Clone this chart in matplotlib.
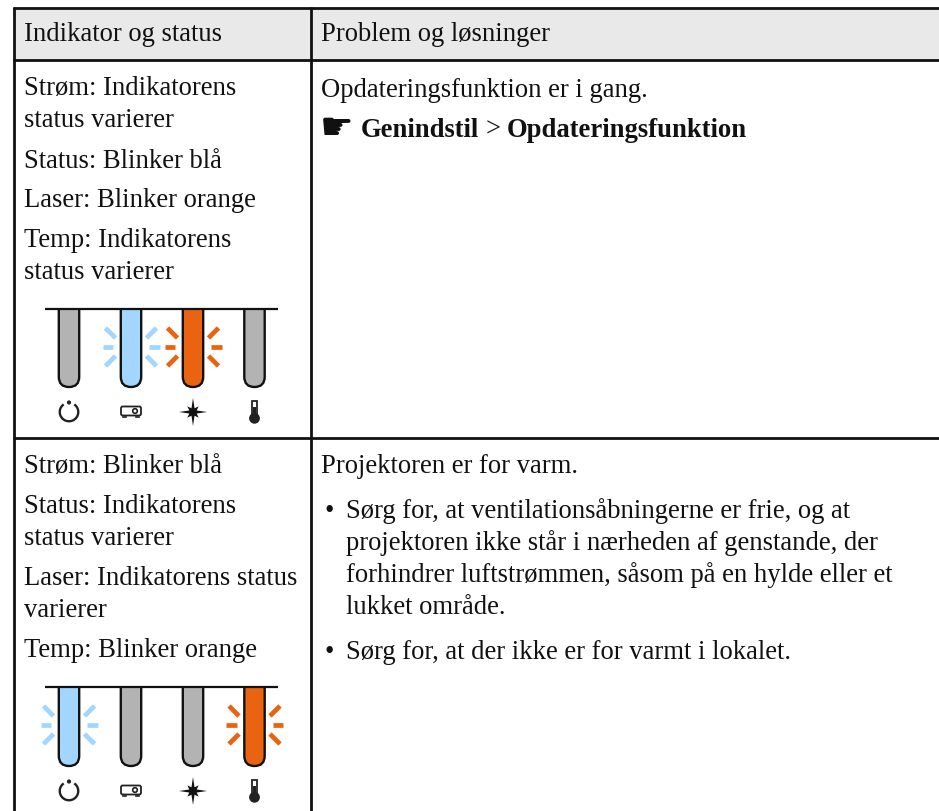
import matplotlib
matplotlib.use("Agg")
import matplotlib.pyplot as plt
from matplotlib.patches import Rectangle, Polygon, FancyBboxPatch, Circle, Arc, PathPatch
from matplotlib.path import Path
import numpy as np

headers = ["Indikator og status", "Problem og løsninger"]
left_1 = [("Strøm: Indikatorens", 94), ("status varierer", 126), ("Status: Blinker blå", 167),
          ("Laser: Blinker orange", 206), ("Temp: Indikatorens", 246), ("status varierer", 278)]
left_2 = [("Strøm: Blinker blå", 472), ("Status: Indikatorens", 512), ("status varierer", 544),
          ("Laser: Indikatorens status", 584), ("varierer", 616), ("Temp: Blinker orange", 656)]
right_plain = [("Opdateringsfunktion er i gang.", 96), ("Projektoren er for varm.", 472)]
bullet_1 = [("Sørg for, at ventilationsåbningerne er frie, og at", 517),
            ("projektoren ikke står i nærheden af genstande, der", 549),
            ("forhindrer luftstrømmen, såsom på en hylde eller et", 581),
            ("lukket område.", 613)]
bullet_2 = [("Sørg for, at der ikke er for varmt i lokalet.", 658)]
states_1 = ["gray", "blue", "orange", "gray"]
states_2 = ["blue", "gray", "gray", "orange"]

FILL = {"gray": "#b3b3b3", "blue": "#a2d6ff", "orange": "#ea6311"}
SERIF = "Liberation Serif"
FS = 19.2
DY = 0.8

fig = plt.figure(figsize=(9.39, 8.12), dpi=100)
ax = fig.add_axes([0, 0, 1, 1])
ax.set_xlim(0, 939)
ax.set_ylim(812, 0)
ax.axis("off")

# Table
ax.add_patch(Rectangle((14, 9), 925, 52, fc="#e9e9e9", ec="none", zorder=0))
LW = 2.0
for y in (9, 61, 439):
    ax.plot([13, 939], [y, y], color="#111111", lw=LW, solid_capstyle="butt")
for x in (14, 311):
    ax.plot([x, x], [8, 812], color="#111111", lw=LW, solid_capstyle="butt")


def txt(x, y, s, **kw):
    ax.text(x, y + DY, s, family=SERIF, fontsize=kw.pop("fontsize", FS), color="#111111",
            va="baseline", ha="left", **kw)


txt(24, 40, headers[0])
txt(321, 40, headers[1])
for s, y in left_1 + left_2:
    txt(24, y, s)
for s, y in right_plain:
    txt(321, y, s)
for lines in (bullet_1, bullet_2):
    txt(324, lines[0][1], "•")
    for s, y in lines:
        txt(346, y, s)

# Cross-reference
ax.text(320, 139, "\u261B", family="DejaVu Sans", fontsize=27, color="#111111",
        va="baseline", ha="left")
txt(361, 136, "Genindstil", weight="bold")
txt(486, 136, ">")
txt(507, 136, "Opdateringsfunktion", weight="bold")


def tube(cx, top, bottom, fill):
    hw = 10.2
    r = hw
    verts = [(cx - hw, top), (cx - hw, bottom - r), (cx - hw, bottom), (cx, bottom),
             (cx + hw, bottom), (cx + hw, bottom - r), (cx + hw, top)]
    codes = [Path.MOVETO, Path.LINETO, Path.CURVE3, Path.CURVE3, Path.CURVE3, Path.CURVE3, Path.LINETO]
    ax.add_patch(PathPatch(Path(verts, codes), fc=fill, ec="#111111", lw=1.7, zorder=3))


def rays(cx, cy, color):
    for sx in (-1, 1):
        ax.plot([cx + sx * 18, cx + sx * 28.5], [cy, cy], color=color, lw=3.4,
                solid_capstyle="butt", zorder=2)
        for sy in (-1, 1):
            ax.plot([cx + sx * 15.5, cx + sx * 25.5], [cy + sy * 9, cy + sy * 19], color=color, lw=3.4,
                    solid_capstyle="butt", zorder=2)


def power(cx, cy):
    ax.add_patch(Arc((cx, cy), 18.5, 18.5, theta1=-55, theta2=235, angle=0, ec="#222222", lw=1.7,
                     zorder=3))
    ax.add_patch(Circle((cx, cy - 9.5), 2.1, fc="#222222", ec="none", zorder=3))


def projector(cx, cy):
    ax.add_patch(FancyBboxPatch((cx - 10, cy - 5), 20, 9, boxstyle="round,pad=0,rounding_size=1.8",
                                fc="white", ec="#222222", lw=1.3, zorder=3))
    ax.add_patch(Circle((cx + 4, cy - 0.5), 2.3, fc="white", ec="#222222", lw=1.2, zorder=4))
    for dx in (-6.5, 6.5):
        ax.plot([cx + dx - 1.5, cx + dx + 1.5], [cy + 5.5, cy + 5.5], color="#222222", lw=1.2, zorder=3)


def star(cx, cy):
    pts = []
    for i in range(16):
        a = i * np.pi / 8
        if i % 4 == 0:
            r = 14
        elif i % 2 == 0:
            r = 8
        else:
            r = 4
        pts.append((cx + r * np.sin(a), cy - r * np.cos(a)))
    ax.add_patch(Polygon(pts, closed=True, fc="#111111", ec="none", zorder=3))


def thermo(cx, cy):
    ax.add_patch(Rectangle((cx - 2.8, cy - 11), 5.6, 16, fc="white", ec="#222222", lw=1.3, zorder=3))
    ax.add_patch(Rectangle((cx - 1.7, cy - 5), 3.4, 9, fc="#222222", ec="none", zorder=4))
    ax.add_patch(Circle((cx, cy + 6.3), 5.4, fc="#222222", ec="none", zorder=4))


def indicator(top, bottom, states):
    xs = [69, 131, 193, 254.5]
    ax.plot([45, 278], [top, top], color="#111111", lw=1.6, solid_capstyle="butt", zorder=4)
    mid = top + 38
    icon = bottom + 25
    for cx, s in zip(xs, states):
        tube(cx, top, bottom, FILL[s])
        if s != "gray":
            rays(cx, mid, FILL[s])
    power(xs[0], icon)
    projector(xs[1], icon - 0.5)
    star(xs[2], icon)
    thermo(xs[3], icon)


indicator(310, 388, states_1)
indicator(688, 767, states_2)

fig.savefig("out.png", dpi=100)
